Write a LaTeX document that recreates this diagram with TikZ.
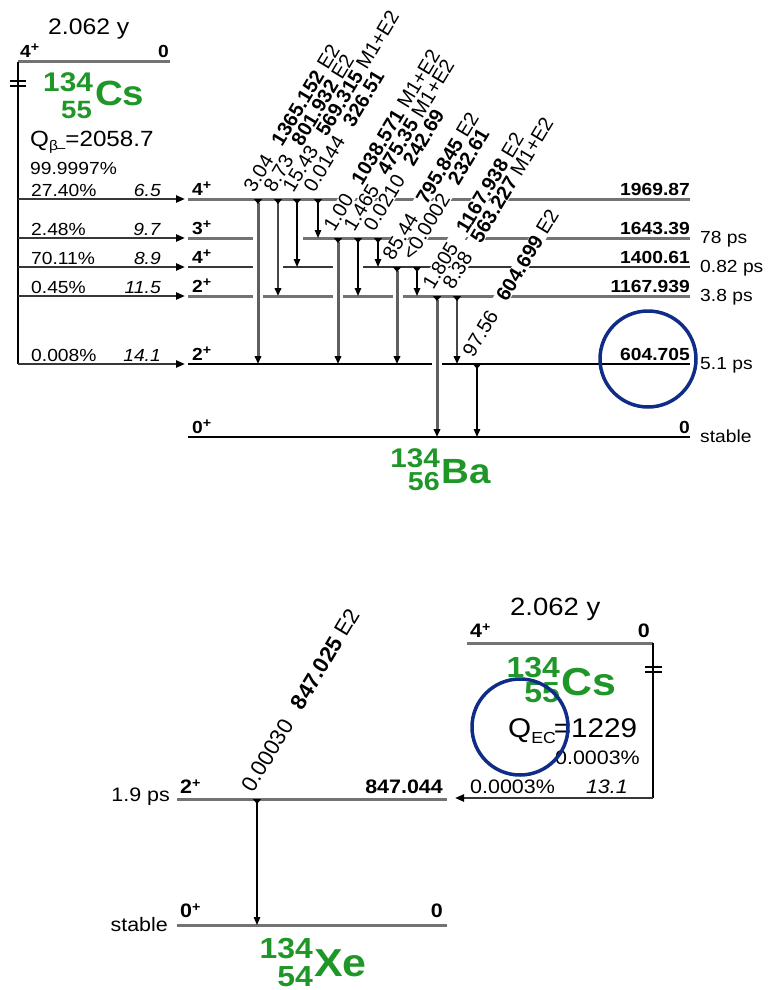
\documentclass[tikz,border=0pt]{standalone}
\usepackage{fontspec}
\setmainfont{Liberation Sans}[FakeStretch=1.1]
\newfontfamily\rotfont{Liberation Sans}
\usetikzlibrary{arrows.meta}
\definecolor{nucgreen}{RGB}{30,150,40}
\definecolor{circblue}{RGB}{15,45,135}
\definecolor{lvgray}{RGB}{115,115,115}
\definecolor{trgray}{RGB}{95,95,95}
\definecolor{lvdark}{RGB}{55,55,55}
\newcommand\setfs[1]{\fontsize{#1}{#1}\selectfont}
\newcommand\spn[2]{{\setfs{#1}\textbf{#2}\raisebox{0.3em}{\setfs{13}\textbf{+}}}}
\begin{document}
\begin{tikzpicture}[x=1pt,y=-1pt,
  txt/.style={inner sep=0pt},
  sm/.style={txt,font=\setfs{17.5}},
  smL/.style={txt,font=\setfs{19.5}},
  lvA/.style={draw=lvgray,line width=3pt},
  lvB/.style={draw=lvdark,line width=2pt},
  lvC/.style={draw=black,line width=1.5pt},
  parline/.style={draw=black,line width=1.8pt},
  feed/.style={draw=lvdark,line width=2.2pt,-{Triangle[width=7pt,length=9pt,color=black]}},
  tr/.style={{Triangle[reversed,width=8pt,length=5pt,color=black]}-{Triangle[width=6.5pt,length=8pt,color=black]}},
  thk/.style={tr,draw=trgray,line width=3pt},
  med/.style={tr,draw=gray!55!black,line width=2pt},
  thn/.style={tr,draw=black,line width=1.3pt},
  glab/.style={rotate=59,anchor=base west,inner sep=0.5pt,fill=white,font=\rotfont\setfs{20}},
  glabL/.style={glab,font=\rotfont\setfs{22}},
  nuc/.style={inner sep=0pt,text=nucgreen},
  ring/.style={draw=circblue,line width=3.5pt}
]
\useasboundingbox (0,0) rectangle (769,990);

%% ================= upper scheme: 134Cs beta- decay to 134Ba
% parent level
\draw[lvA] (18,62) -- (170,62);
\draw[parline] (18,62) -- (18,364);
\draw[line width=1.5pt] (10,81) -- (26,81) (10,86) -- (26,86);
\node[txt,anchor=base west,font=\setfs{22.5}] (hlA) at (48,35) {2.062 y};
\node[txt,anchor=base west] (pspA) at (20,57) {\spn{17.5}{4}};
\node[sm,anchor=base east,font=\bfseries\setfs{17.5}] (peA) at (169,57) {0};
\node[nuc,anchor=base east,font=\bfseries\setfs{27}] (csAa) at (93,91) {134};
\node[nuc,anchor=base east,font=\bfseries\setfs{25}] (csAz) at (92,118) {55};
\node[nuc,anchor=base west,font=\bfseries\setfs{35}] (csAx) at (95,105) {Cs};
\node[txt,anchor=base west,font=\setfs{22}] (qb) at (30,146)
  {Q{\setfs{14}\raisebox{-4pt}{β}\kern-1pt\raisebox{-6pt}{–}}=2058.7};
\node[sm,anchor=base west] (brA) at (30,174) {99.9997\%};

% daughter levels
\draw[lvA] (188,199) -- (690,199);
\draw[lvA] (188,238) -- (253,238) (303,238) -- (690,238);
\draw[lvB] (188,267) -- (253,267) (283,267) -- (333,267) (363,267) -- (690,267);
\draw[lvA] (188,296) -- (253,296) (263,296) -- (333,296) (343,296) -- (393,296) (403,296) -- (690,296);
\draw[lvC] (188,364) -- (432,364) (442,364) -- (690,364);
\draw[lvC] (188,437) -- (690,437);

% beta feeding
\foreach \y/\p/\f in {199/27.40\%/6.5, 238/2.48\%/9.7, 267/70.11\%/8.9, 296/0.45\%/11.5, 364/0.008\%/14.1}{
  \coordinate (fs\y) at (18,\y);
  \coordinate (fe\y) at (185,\y);
  \draw[feed] (fs\y) -- (fe\y);
  \node[sm,anchor=base west] (pct\y) at (31,\y-3) {\p};
  \node[sm,anchor=base east] (lft\y) at (161,\y-3) {\textit{\f}};
}
% spins, energies, half-lives
\foreach \y/\s in {199/4,238/3,267/4,296/2,364/2,437/0}{
  \node[txt,anchor=base west] (sp\y) at (192,\y-4) {\spn{17.5}{\s}};
}
\foreach \y/\e in {199/1969.87,238/1643.39,267/1400.61,296/1167.939,364/604.705,437/0}{
  \node[sm,anchor=base east,font=\bfseries\setfs{17.5}] (en\y) at (690,\y-4) {\e};
}
\foreach \y/\t in {238/78 ps,267/0.82 ps,296/3.8 ps,364/5.1 ps,437/stable}{
  \node[sm,anchor=base west] (hl\y) at (700,\y+5) {\t};
}

% gamma labels
\foreach \n/\x/\ya/\I/\E/\M in {
 a/258/199/3.04/1365.152/E2,
 b/278/199/8.73/801.932/E2,
 c/297/199/15.43/569.315/M1+E2,
 d/318/199/0.0144/326.51/{},
 e/338/238/1.00/1038.571/M1+E2,
 f/358/238/1.465/475.35/M1+E2,
 g/378/238/0.0210/242.69/{},
 h/397/267/85.44/795.845/E2,
 i/417/267/{<0.0002}/232.61/{},
 j/437/296/1.805/1167.938/E2,
 k/457/296/8.38/563.227/M1+E2,
 l/477/364/97.56/604.699/E2}{
  \node[glab] (lab\n) at (\x-4,\ya-5) {\I\hspace{0.75em}\textbf{\E}\ \M};
}
% gamma transitions
\foreach \n/\x/\ya/\yb/\w in {
 a/258/199/364/thk, b/278/199/296/med, c/297/199/267/thn, d/318/199/238/thn,
 e/338/238/364/thk, f/358/238/296/thn, g/378/238/267/thn,
 h/397/267/364/thk, i/417/267/296/thn,
 j/437/296/437/thk, k/457/296/364/med,
 l/477/364/437/thn}{
  \coordinate (s\n) at (\x,\ya);
  \coordinate (e\n) at (\x,\yb);
  \draw[\w] (s\n) -- (e\n);
}
\node[nuc,anchor=base east,font=\bfseries\setfs{27}] (baA) at (440,467) {134};
\node[nuc,anchor=base east,font=\bfseries\setfs{26}] (baZ) at (440,490) {56};
\node[nuc,anchor=base west,font=\bfseries\setfs{35}] (baX) at (441,483) {Ba};

\draw[ring] (648,359) circle[radius=48];

%% ================= lower scheme: 134Cs EC decay to 134Xe
\draw[lvA] (467,643) -- (653,643);
\draw[parline] (653,643) -- (653,798);
\draw[line width=1.5pt] (645,667) -- (662,667) (645,672) -- (662,672);
\node[txt,anchor=base west,font=\setfs{25}] (hlB) at (510,615) {2.062 y};
\node[txt,anchor=base west] (pspB) at (470,637) {\spn{19.5}{4}};
\node[smL,anchor=base east,font=\bfseries\setfs{19.5}] (peB) at (650,637) {0};
\node[nuc,anchor=base east,font=\bfseries\setfs{29}] (csBa) at (560,677) {134};
\node[nuc,anchor=base east,font=\bfseries\setfs{29}] (csBz) at (560,702) {55};
\node[nuc,anchor=base west,font=\bfseries\setfs{39}] (csBx) at (561,695) {Cs};
\node[txt,anchor=base west,font=\setfs{27}] (qec) at (508,737)
  {Q{\setfs{16}\raisebox{-6pt}{EC}}\kern-2pt=1229};
\node[smL,anchor=base east] (brB) at (640,764) {0.0003\%};

\coordinate (lfs) at (653,798);
\coordinate (lfe) at (455,798);
\draw[feed] (lfs) -- (lfe);
\node[smL,anchor=base west] (pctB) at (470,793) {0.0003\%};
\node[smL,anchor=base east] (lftB) at (628,793) {\textit{13.1}};

\draw[lvA] (177,799) -- (447,799);
\draw[lvA] (177,925) -- (447,925);
\node[txt,anchor=base west] (spX2) at (180,793) {\spn{19.5}{2}};
\node[txt,anchor=base west] (spX0) at (180,917) {\spn{19.5}{0}};
\node[smL,anchor=base east,font=\bfseries\setfs{19.5}] (enX2) at (443,793) {847.044};
\node[smL,anchor=base east,font=\bfseries\setfs{19.5}] (enX0) at (443,917) {0};
\node[smL,anchor=base east] (hlX2) at (170,801) {1.9 ps};
\node[smL,anchor=base east] (hlX0) at (168,931) {stable};

\node[glabL] (labX) at (253,794) {0.00030\hspace{0.75em}\textbf{847.025} E2};
\coordinate (sX) at (257,799);
\coordinate (eX) at (257,925);
\draw[thn] (sX) -- (eX);

\node[nuc,anchor=base east,font=\bfseries\setfs{29}] (xeA) at (313,958) {134};
\node[nuc,anchor=base east,font=\bfseries\setfs{29}] (xeZ) at (313,986) {54};
\node[nuc,anchor=base west,font=\bfseries\setfs{39}] (xeX) at (314,976) {Xe};

\draw[ring] (520,727) circle[radius=48];
\end{tikzpicture}
\end{document}
